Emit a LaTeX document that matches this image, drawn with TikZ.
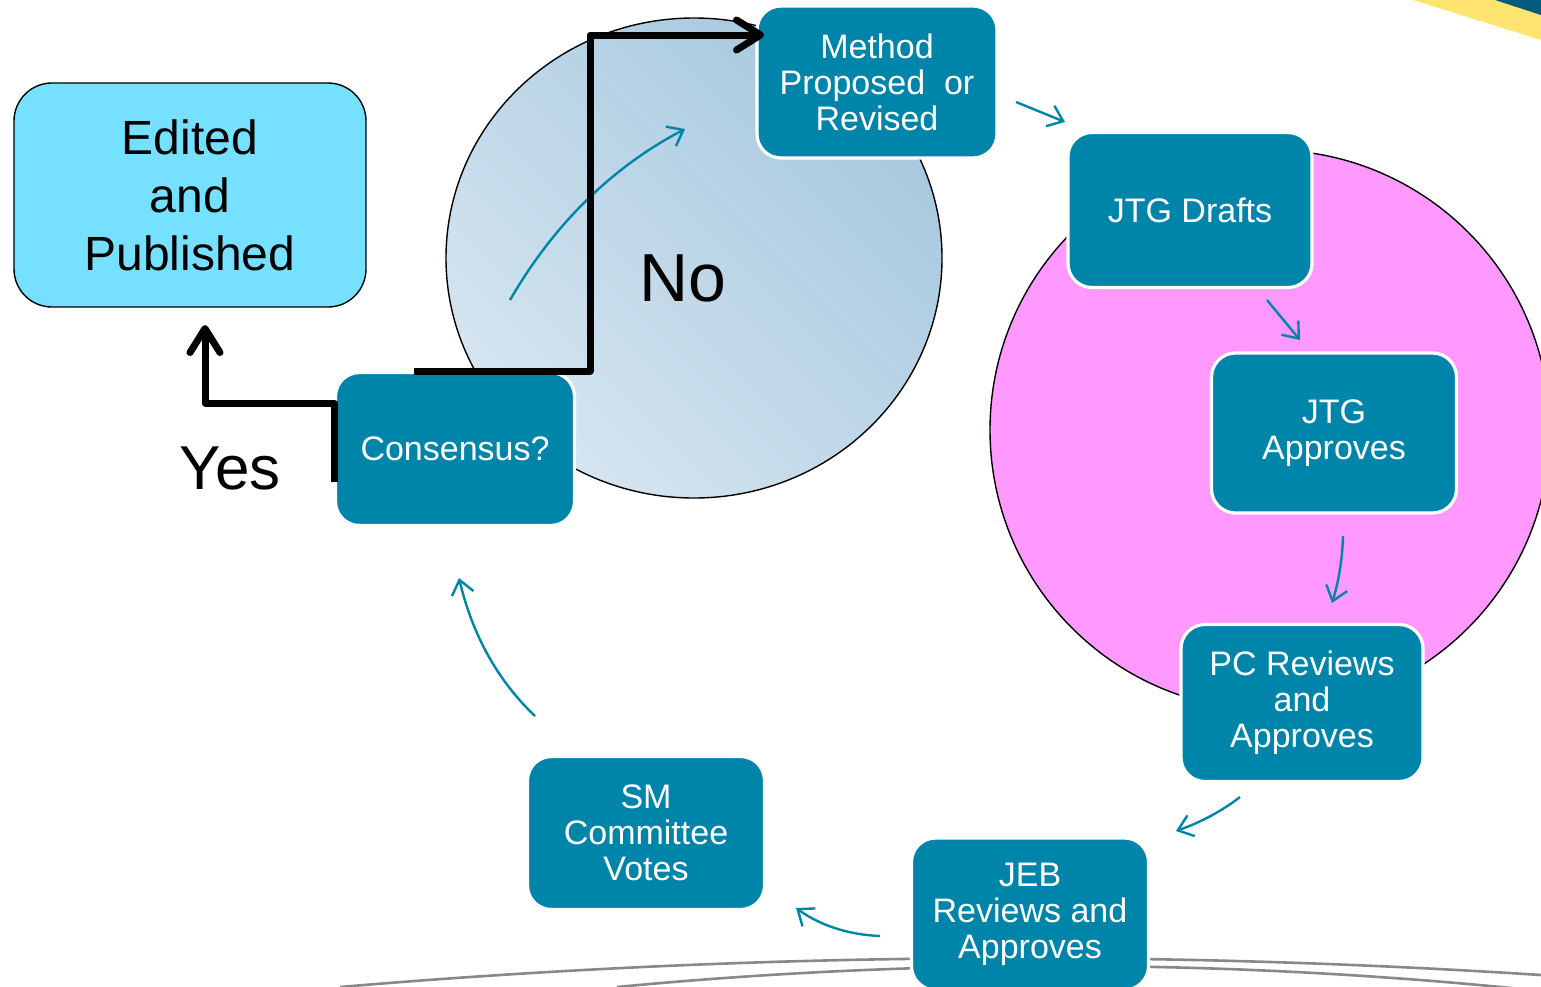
\documentclass[tikz,border=0pt]{standalone}
\usepackage{fontspec}
\setmainfont{Liberation Sans}
\usetikzlibrary{arrows.meta,calc}
\definecolor{tealbox}{RGB}{0,133,170}
\definecolor{editfill}{RGB}{117,224,255}
\definecolor{pinkfill}{RGB}{255,153,255}
\definecolor{bluedark}{RGB}{166,200,222}
\definecolor{bluelight}{RGB}{214,229,241}
\definecolor{bandyellow}{RGB}{255,228,112}
\definecolor{banddark}{RGB}{0,92,122}
\definecolor{arcgray}{RGB}{136,136,140}
\begin{document}
\begin{tikzpicture}[x=0.5pt,y=-0.5pt,
  stepbox/.style={rectangle, rounded corners=12pt, fill=tealbox, draw=white,
    line width=1.6pt, text=white, align=center,
    font=\fontsize{17}{18}\selectfont, inner sep=2pt},
  flow/.style={draw=tealbox, line width=1.2pt,
    -{Straight Barb[length=7pt,width=11pt]}},
  bigline/.style={draw=black, line width=3.5pt, line join=round,
    -{Straight Barb[length=12pt,width=15pt,round]}},
  arcline/.style={draw=arcgray, line width=1.3pt}
]
\useasboundingbox (0,0) rectangle (1541,986);
\clip (0,0) rectangle (1541,986);
\fill[white] (0,0) rectangle (1541,986);

% top-right decoration
\fill[bandyellow] (1413,0) -- (1541,40) -- (1541,0) -- cycle;
\fill[banddark] (1495,0) -- (1541,15) -- (1541,0) -- cycle;

% background arcs (quadratic curves written as cubic)
\coordinate (a1s) at (340,987); \coordinate (a1c) at (940,936); \coordinate (a1e) at (1541,975);
\coordinate (a2s) at (617,987); \coordinate (a2c) at (1079,943); \coordinate (a2e) at (1541,991);
\draw[arcline] (a1s) .. controls ($(a1s)!2/3!(a1c)$) and ($(a1e)!2/3!(a1c)$) .. (a1e);
\draw[arcline] (a2s) .. controls ($(a2s)!2/3!(a2c)$) and ($(a2e)!2/3!(a2c)$) .. (a2e);

% circles
\shade[shading=axis, top color=bluedark, bottom color=bluelight, shading angle=-45]
  (694,258) ellipse [x radius=248, y radius=240];
\draw[black, line width=0.7pt] (694,258) ellipse [x radius=248, y radius=240];
\draw[black, line width=0.7pt, fill=pinkfill] (1270,430) circle [radius=280];

% flow arrow coordinates
\coordinate (f1s) at (1016,102); \coordinate (f1e) at (1065,122);
\coordinate (f2s) at (1267,300); \coordinate (f2e) at (1300,340);
\coordinate (f3s) at (1343,536); \coordinate (f3c) at (1342,571); \coordinate (f3e) at (1332,603);
\coordinate (f4s) at (1240,797); \coordinate (f4c) at (1213,818); \coordinate (f4e) at (1176,831);
\coordinate (f5s) at (880,936); \coordinate (f5c) at (832,934); \coordinate (f5e) at (796,908);
\coordinate (f6s) at (535,716); \coordinate (f6c) at (479,663); \coordinate (f6e) at (459,578);
\coordinate (f7s) at (510,300); \coordinate (f7c) at (576,186); \coordinate (f7e) at (685,129);

\draw[flow] (f1s) -- (f1e);
\draw[flow] (f2s) -- (f2e);
\draw[flow] (f3s) .. controls ($(f3s)!2/3!(f3c)$) and ($(f3e)!2/3!(f3c)$) .. (f3e);
\draw[flow] (f4s) .. controls ($(f4s)!2/3!(f4c)$) and ($(f4e)!2/3!(f4c)$) .. (f4e);
\draw[flow] (f5s) .. controls ($(f5s)!2/3!(f5c)$) and ($(f5e)!2/3!(f5c)$) .. (f5e);
\draw[flow] (f6s) .. controls ($(f6s)!2/3!(f6c)$) and ($(f6e)!2/3!(f6c)$) .. (f6e);
\draw[flow] (f7s) .. controls ($(f7s)!2/3!(f7c)$) and ($(f7e)!2/3!(f7c)$) .. (f7e);

% boxes
\node[rectangle, rounded corners=19pt, fill=editfill, draw=black, line width=0.7pt,
  minimum width=176pt, minimum height=112pt, align=center,
  font=\fontsize{24}{29}\selectfont] (edited) at (190,195) {Edited\\and\\Published};
\node[stepbox, minimum width=120pt, minimum height=76pt] (method) at (877,82)
  {Method\\Proposed\ \ or\\Revised};
\node[stepbox, minimum width=122pt, minimum height=77.5pt] (drafts) at (1190,210)
  {JTG Drafts};
\node[stepbox, minimum width=122.5pt, minimum height=80pt] (approves) at (1334,433)
  {JTG\\Approves};
\node[stepbox, minimum width=121pt, minimum height=78.5pt] (pc) at (1302,703)
  {PC Reviews\\and\\Approves};
\node[stepbox, minimum width=118.5pt, minimum height=76pt] (jeb) at (1030,914)
  {JEB\\Reviews and\\Approves};
\node[stepbox, minimum width=118.5pt, minimum height=76.5pt] (sm) at (646,833)
  {SM\\Committee\\Votes};
\node[stepbox, minimum width=119.5pt, minimum height=76.5pt] (cons) at (455,449)
  {Consensus?};

% labels
\node[font=\fontsize{34}{40}\selectfont] (no) at (683,278) {No};
\node[font=\fontsize{31}{36}\selectfont] (yes) at (230,468) {Yes};

% decision lines
\coordinate (noStart) at (414,371);
\coordinate (noCorner) at (590,35);
\coordinate (noEnd) at (764,35);
\draw[bigline] (noStart) -| (noCorner) -- (noEnd);

\coordinate (yesStart) at (334,482);
\coordinate (yesCorner) at (205,403);
\coordinate (yesEnd) at (205,325);
\draw[bigline] (yesStart) |- (yesCorner) -- (yesEnd);
\end{tikzpicture}
\end{document}
